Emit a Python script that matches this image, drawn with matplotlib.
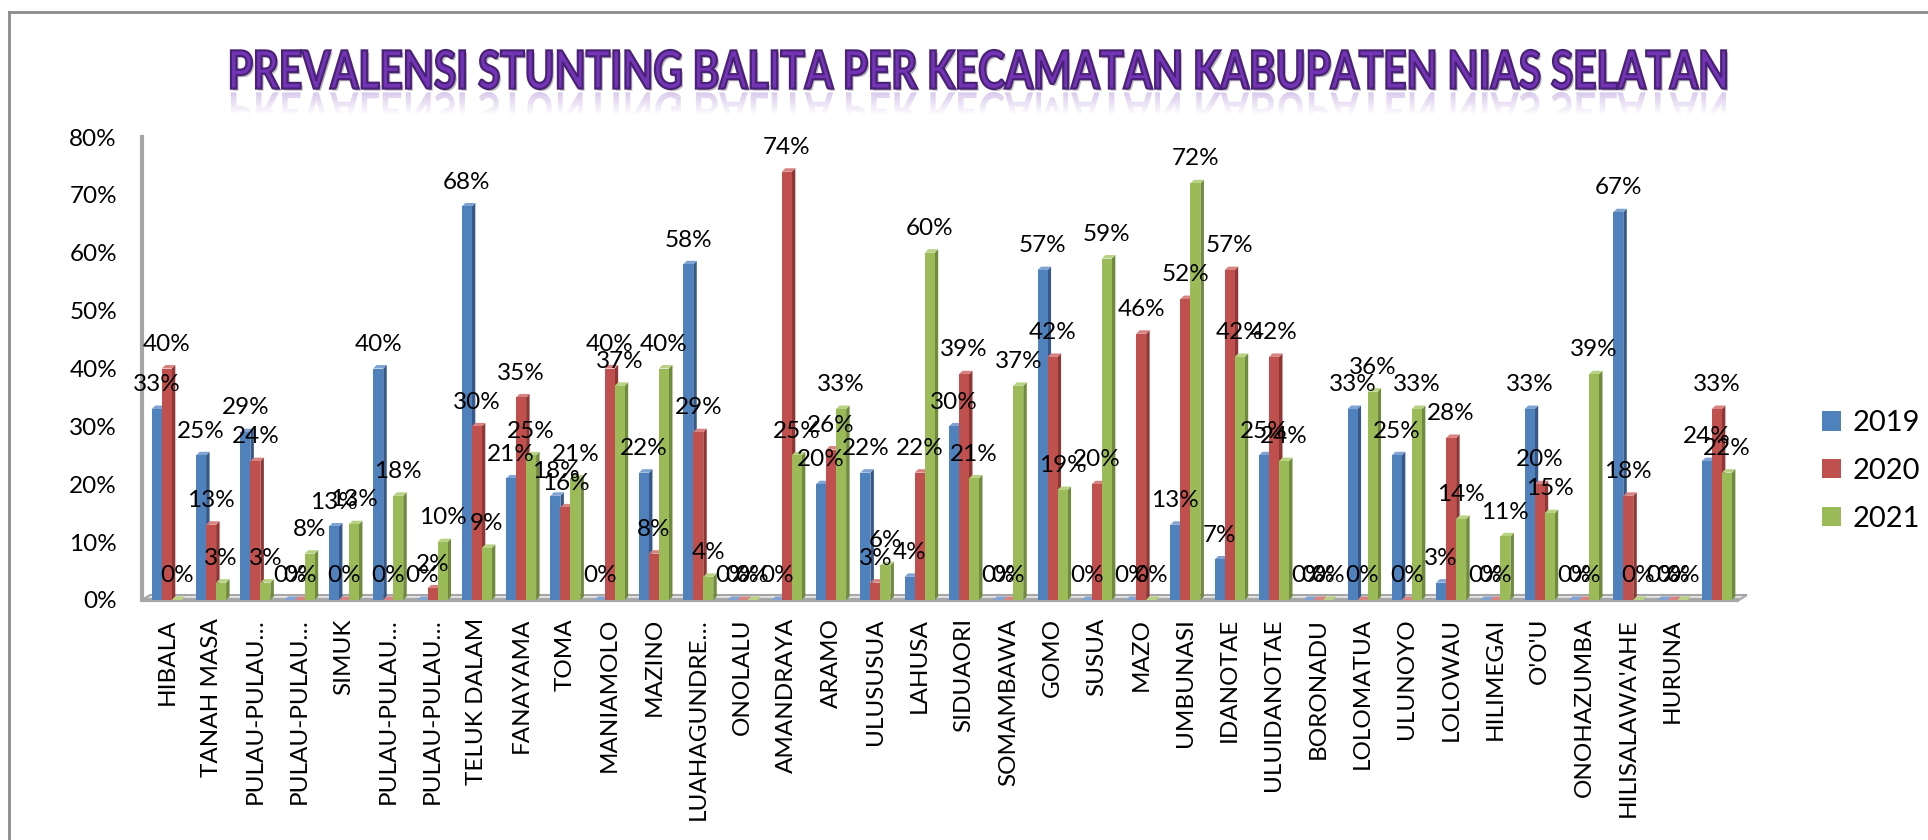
import matplotlib
matplotlib.use('Agg')
import matplotlib.pyplot as plt
from matplotlib.patches import Polygon, Rectangle, PathPatch, Patch
from matplotlib.textpath import TextPath
from matplotlib.font_manager import FontProperties
from matplotlib.transforms import Affine2D, IdentityTransform
from matplotlib.lines import Line2D
import matplotlib.patheffects as pe

plt.rcParams['font.family'] = ['Lato', 'DejaVu Sans']

title = "PREVALENSI STUNTING BALITA PER KECAMATAN KABUPATEN NIAS SELATAN"
categories = ["HIBALA", "TANAH MASA", "PULAU-PULAU…", "PULAU-PULAU…", "SIMUK",
              "PULAU-PULAU…", "PULAU-PULAU…", "TELUK DALAM", "FANAYAMA", "TOMA",
              "MANIAMOLO", "MAZINO", "LUAHAGUNDRE…", "ONOLALU", "AMANDRAYA",
              "ARAMO", "ULUSUSUA", "LAHUSA", "SIDUAORI", "SOMAMBAWA", "GOMO",
              "SUSUA", "MAZO", "UMBUNASI", "IDANOTAE", "ULUIDANOTAE", "BORONADU",
              "LOLOMATUA", "ULUNOYO", "LOLOWAU", "HILIMEGAI", "O'O'U",
              "ONOHAZUMBA", "HILISALAWA'AHE", "HURUNA", ""]
years = ["2019", "2020", "2021"]
v2019 = [0.33, 0.25, 0.29, 0.00, 0.127, 0.40, 0.00, 0.68, 0.21, 0.18,
         0.00, 0.22, 0.58, 0.00, 0.00, 0.20, 0.22, 0.04, 0.30, 0.00,
         0.57, 0.00, 0.00, 0.13, 0.07, 0.25, 0.00, 0.33, 0.25, 0.03,
         0.00, 0.33, 0.00, 0.67, 0.00, 0.24]
v2020 = [0.40, 0.13, 0.24, 0.00, 0.00, 0.00, 0.02, 0.30, 0.35, 0.16,
         0.40, 0.08, 0.29, 0.00, 0.74, 0.26, 0.03, 0.22, 0.39, 0.00,
         0.42, 0.20, 0.46, 0.52, 0.57, 0.42, 0.00, 0.00, 0.00, 0.28,
         0.00, 0.20, 0.00, 0.18, 0.00, 0.33]
v2021 = [0.00, 0.03, 0.03, 0.08, 0.131, 0.18, 0.10, 0.09, 0.25, 0.21,
         0.37, 0.40, 0.04, 0.00, 0.25, 0.33, 0.06, 0.60, 0.21, 0.37,
         0.19, 0.59, 0.00, 0.72, 0.42, 0.24, 0.00, 0.36, 0.33, 0.14,
         0.11, 0.15, 0.39, 0.00, 0.00, 0.22]
yticks = [0.0, 0.1, 0.2, 0.3, 0.4, 0.5, 0.6, 0.7, 0.8]

front = ["#4F81BD", "#C0504D", "#9BBB59"]
side = ["#36598A", "#8E3734", "#708A3E"]
top = ["#7FA3D3", "#D88381", "#B8D284"]

W, H = 1928, 840
fig = plt.figure(figsize=(W / 100, H / 100), dpi=100)
fig.patch.set_facecolor("white")

ax_l, ax_r, ax_b, ax_t = 142, 1739, 600, 137
ax = fig.add_axes([ax_l / W, (H - ax_b) / H, (ax_r - ax_l) / W, (ax_b - ax_t) / H])
xmin, xmax = -0.56, 35.5
ax.set_xlim(xmin, xmax)
ax.set_ylim(0, 0.8)
ax.patch.set_visible(False)
for s in ax.spines.values():
    s.set_visible(False)

px_x = (ax_r - ax_l) / (xmax - xmin)
px_y = (ax_b - ax_t) / 0.8
ddx = 3.5 / px_x
ddy = 3.5 / px_y

# floor and wall
fdx, fdy = 8 / px_x, 5 / px_y
ax.add_patch(Polygon([(xmin, 0), (xmax, 0), (xmax + fdx, fdy), (xmin + fdx, fdy)],
                     closed=True, facecolor="#E4E4E4", edgecolor="#A6A6A6",
                     lw=1.5, zorder=1, clip_on=False))
ax.plot([xmin, xmax], [0, 0], color="#A6A6A6", lw=3, zorder=1.5, clip_on=False,
        solid_capstyle="butt")
ax.plot([xmin, xmin], [0, 0.8], color="#A6A6A6", lw=3, zorder=1.5, clip_on=False)

w = 10 / px_x
series = [v2019, v2020, v2021]
z = 2
for i in range(len(categories)):
    for j, vals in enumerate(series):
        v = vals[i]
        xc = i + (j - 1) * w
        x0, x1 = xc - w / 2, xc + w / 2
        ax.add_patch(Polygon([(x1, 0), (x1 + ddx, ddy), (x1 + ddx, v + ddy), (x1, v)],
                             closed=True, facecolor=side[j], edgecolor="none", zorder=z))
        ax.add_patch(Polygon([(x0, v), (x0 + ddx, v + ddy), (x1 + ddx, v + ddy), (x1, v)],
                             closed=True, facecolor=top[j], edgecolor="none", zorder=z))
        ax.bar(xc, v, width=w, color=front[j], edgecolor="none", zorder=z + 0.1)
        z += 0.2

for i in range(len(categories)):
    for j, vals in enumerate(series):
        v = vals[i]
        xc = i + (j - 1) * w
        ax.annotate(f"{round(v * 100):.0f}%", (xc, v), xytext=(0, 17.5),
                    textcoords="offset points", ha="center", va="center",
                    fontsize=17.5, color="black", zorder=100)

ax.set_xticks(range(len(categories)))
ax.set_xticklabels(categories, rotation=90, fontsize=17.5, va="top", ha="center")
ax.set_yticks(yticks)
ax.set_yticklabels([f"{round(t * 100)}%" for t in yticks], fontsize=17.5)
ax.tick_params(axis="x", length=0, pad=13)
ax.tick_params(axis="y", length=0, pad=18)

# legend
handles = [Patch(facecolor=front[k], edgecolor="none") for k in range(3)]
fig.legend(handles, years, loc="center left",
           bbox_to_anchor=(1822 / W, (H - 471) / H), frameon=False,
           fontsize=21, handlelength=0.65, handleheight=0.65,
           handletextpad=0.4, labelspacing=0.75, borderpad=0, borderaxespad=0)

# title drawn as path, scaled to the reference extents
fp = FontProperties(family="Lato", weight="bold")
tp = TextPath((0, 0), title, size=100, prop=fp)
bb = tp.get_extents()
t_left, t_right, t_top, t_base = 231, 1726, 50, 89
sx = (t_right - t_left) / bb.width
sy = (t_base - t_top) / bb.height
tr = Affine2D().translate(-bb.x0, -bb.y0).scale(sx, sy).translate(t_left, H - t_base)
path = tr.transform_path(tp)
tpatch = PathPatch(path, facecolor="#7434B8", edgecolor="#4A2275", lw=1.6,
                   transform=IdentityTransform(), zorder=10)
tpatch.set_path_effects([pe.withSimplePatchShadow(offset=(1.5, -1.5), shadow_rgbFace="#555555", alpha=0.4)])
fig.add_artist(tpatch)

rtr = Affine2D().translate(-bb.x0, -bb.y0).scale(sx, -sy).translate(t_left, H - t_base - 3)
rpath = rtr.transform_path(tp)
n = 10
strip = 2.2
for k in range(n):
    rp = PathPatch(rpath, facecolor="#8A5CC8", edgecolor="none",
                   transform=IdentityTransform(), alpha=0.32 * (1 - k / n), zorder=9)
    clip = Rectangle((0, H - t_base - 3 - (k + 1) * strip), W, strip,
                     transform=IdentityTransform())
    rp.set_clip_path(clip)
    fig.add_artist(rp)

# outer frame lines
fig.add_artist(Line2D([9, 9], [0, H - 12], color="#8C8C8C", lw=2,
                      transform=IdentityTransform()))
fig.add_artist(Line2D([9, W], [H - 12, H - 12], color="#8C8C8C", lw=2,
                      transform=IdentityTransform()))

fig.savefig("out.png", dpi=100, facecolor="white")
